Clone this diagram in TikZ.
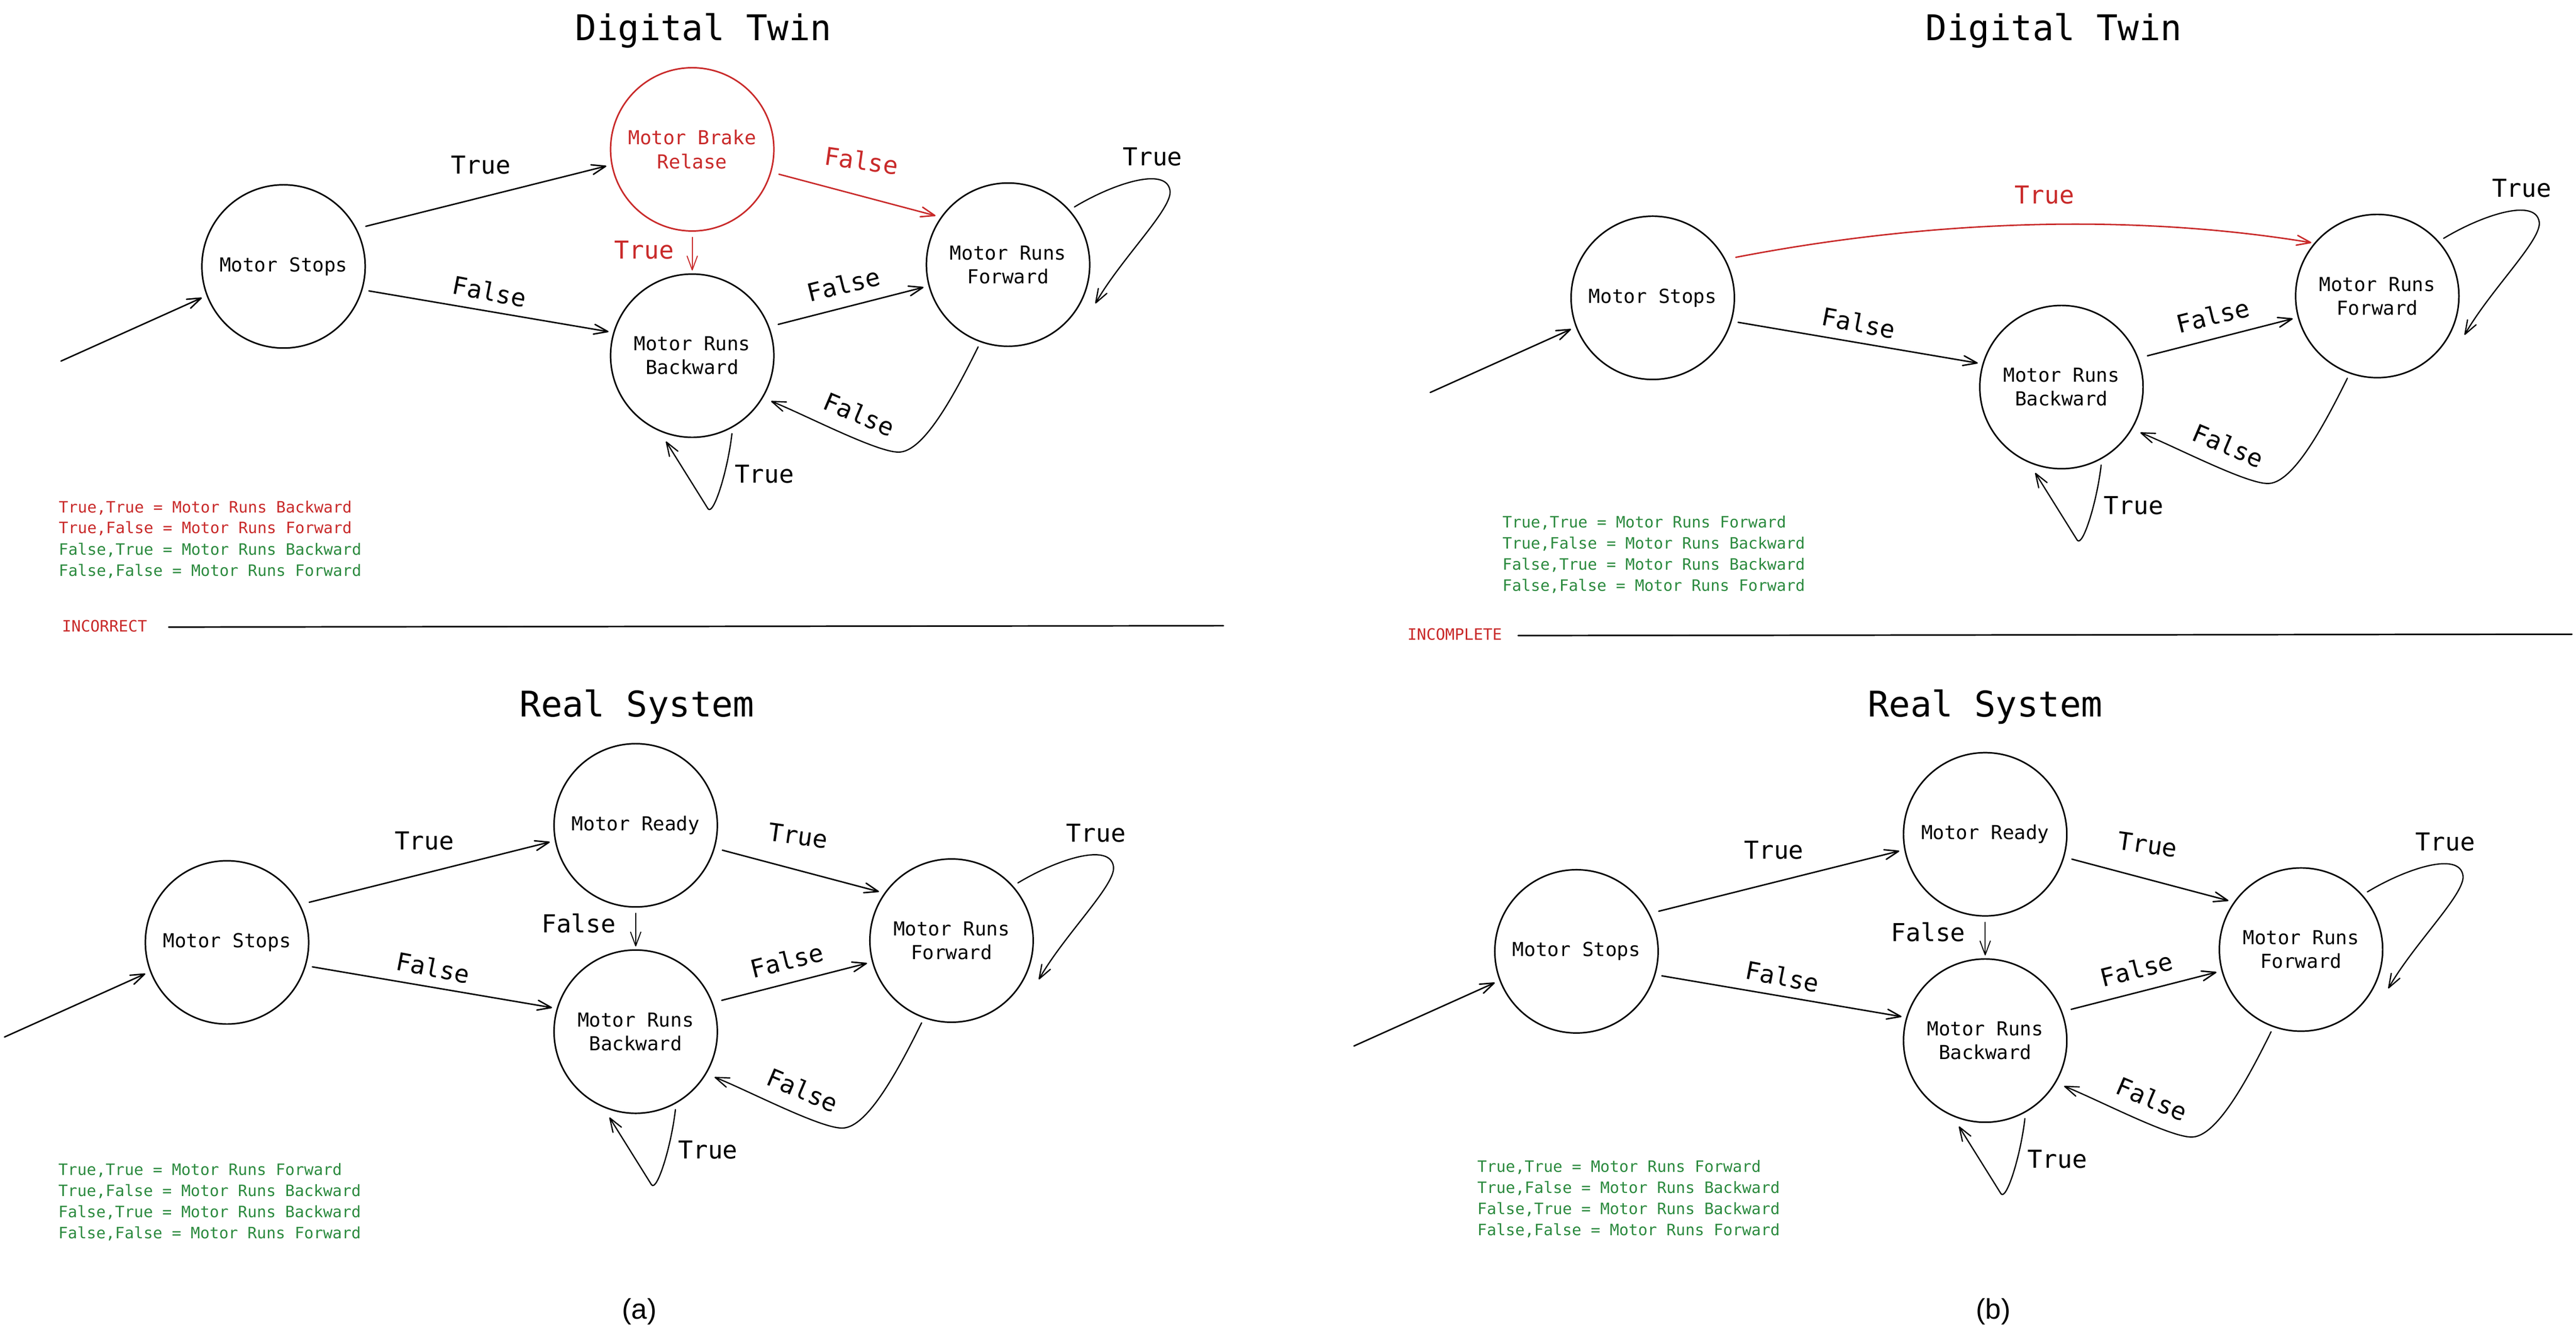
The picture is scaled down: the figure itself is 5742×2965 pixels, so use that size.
\documentclass[tikz,border=0pt]{standalone}
\usepackage{fontspec}
\setmainfont{Liberation Sans}
\setmonofont{DejaVu Sans Mono}
\usetikzlibrary{arrows.meta,calc}
\definecolor{xred}{HTML}{C92A2A}
\definecolor{xgreen}{HTML}{2B8A3E}
\newcommand\stfont{\ttfamily\fontsize{43}{53}\selectfont}
\newcommand\lbfont{\ttfamily\fontsize{55}{66}\selectfont}
\newcommand\ttlfont{\ttfamily\fontsize{79}{95}\selectfont}
\newcommand\lgfont{\ttfamily\fontsize{35}{47}\selectfont}
\newcommand\cpfont{\rmfamily\fontsize{63}{75}\selectfont}
\tikzset{
  state/.style={circle, draw, line width=3.4pt, minimum size=364pt, inner sep=0pt, outer sep=0pt, align=center, font=\stfont},
  conn/.style={line width=3.2pt, line cap=round, line join=round, -{Straight Barb[length=31pt,width=22pt,round]}},
  curv/.style={conn, line width=2.8pt},
  slim/.style={line width=2.2pt, line cap=round, -{Straight Barb[length=31pt,width=23pt,round]}},
  lbl/.style={font=\lbfont, inner sep=0pt},
  ttl/.style={font=\ttlfont, inner sep=0pt, anchor=base},
  lgd/.style={font=\lgfont, inner sep=0pt, anchor=base west},
  sepline/.style={line width=3.4pt, line cap=round},
  captxt/.style={font=\cpfont, inner sep=0pt, anchor=base},
}
% common part of every panel (coordinates of panel (a), top)
\newcommand\basediagram{%
  \node[state] (s) at (632,594) {Motor Stops};
  \node[state] (k) at (1543,793) {Motor Runs\\Backward};
  \node[state] (f) at (2247,590) {Motor Runs\\Forward};
  \coordinate (e) at (136,805);
  \draw[conn] (e) -- ($(s.center)!195pt!(s.201)$);
  \draw[conn] ($(s.center)!198pt!(s.-16)$) -- ($(k.center)!194pt!(k.164)$);
  \node[lbl, rotate=-11] (l1) at (1091,650) {False};
  \draw[conn] ($(k.center)!204pt!(k.20)$) -- ($(f.center)!195pt!(f.195)$);
  \node[lbl, rotate=14] (l2) at (1880,634) {False};
  \draw[curv] ($(f.center)!196pt!(f.41)$) .. controls (2480,410) and (2600,370) .. (2608,425)
     .. controls (2614,465) and (2500,575) .. ($(f.center)!213pt!(f.-24)$);
  \node[lbl] (l3) at (2569,350) {True};
  \draw[curv] ($(f.center)!195pt!(f.-110)$) .. controls (2114,908) and (2053,1008) .. (2003,1008)
     .. controls (1953,1008) and (1793,924) .. ($(k.center)!203pt!(k.-30)$);
  \node[lbl, rotate=-23] (l4) at (1915,923) {False};
  \draw[curv] ($(k.center)!195pt!(k.-63)$) .. controls (1622,1050) and (1590,1152) .. (1578,1134)
     -- ($(k.center)!200pt!(k.-107)$);
  \node[lbl] (l5) at (1704,1057) {True};
}
\newcommand\readypart{%
  \node[state] (r) at (1543,333) {Motor Ready};
  \draw[conn] ($(s.center)!204pt!(s.26)$) -- ($(r.center)!195pt!(r.191)$);
  \node[lbl] (l6) at (1072,368) {True};
  \draw[conn] ($(r.center)!201pt!(r.-16)$) -- ($(f.center)!195pt!(f.146)$);
  \node[lbl, rotate=-8] (l7) at (1905,356) {True};
  \draw[slim] ($(r.center)!196pt!(r.-90)$) -- ($(k.center)!190pt!(k.90)$);
  \node[lbl] (l8) at (1416,551) {False};
}
\begin{document}
\begin{tikzpicture}[x=1pt,y=-1pt]
\fill[white] (0,0) rectangle (5742,2965);
\useasboundingbox (0,0) rectangle (5742,2965);

% ---------- (a) Digital Twin ----------
\begin{scope}[name prefix=tl-]
  \basediagram
  \node[state, xred] (b) at (1543,333) {Motor Brake\\Relase};
  \draw[conn] ($(s.center)!204pt!(s.26)$) -- ($(b.center)!195pt!(b.191)$);
  \node[lbl] (l6) at (1072,368) {True};
  \draw[conn, xred] ($(b.center)!201pt!(b.-16)$) -- ($(f.center)!195pt!(f.146)$);
  \node[lbl, xred, rotate=-8] (l7) at (1920,358) {False};
  \draw[slim, xred] ($(b.center)!196pt!(b.-90)$) -- ($(k.center)!190pt!(k.90)$);
  \node[lbl, xred] (l8) at (1436,557) {True};
\end{scope}

% ---------- (a) Real System ----------
\begin{scope}[shift={(-126,1507)}, name prefix=bl-]
  \basediagram
  \readypart
\end{scope}

% ---------- (b) Digital Twin ----------
\begin{scope}[shift={(3052,70)}, name prefix=tr-]
  \basediagram
  \draw[conn, xred] ($(s.center)!206pt!(s.26)$) .. controls (1250,420) and (1700,405) .. ($(f.center)!189pt!(f.141)$);
  \node[lbl, xred] (l6) at (1505,364) {True};
\end{scope}

% ---------- (b) Real System ----------
\begin{scope}[shift={(2882,1527)}, name prefix=br-]
  \basediagram
  \readypart
\end{scope}

% titles
\node[ttl] (t1) at (1568,90) {Digital Twin};
\node[ttl] (t2) at (4578,90) {Digital Twin};
\node[ttl] (t3) at (1420,1598) {Real System};
\node[ttl] (t4) at (4425,1598) {Real System};

% legends
\node[lgd, xred]   (g1) at (131,1143) {True,True = Motor Runs Backward};
\node[lgd, xred]   (g2) at (131,1189) {True,False = Motor Runs Forward};
\node[lgd, xgreen] (g3) at (131,1237) {False,True = Motor Runs Backward};
\node[lgd, xgreen] (g4) at (131,1284) {False,False = Motor Runs Forward};

\node[lgd, xgreen] (h1) at (3349,1177) {True,True = Motor Runs Forward};
\node[lgd, xgreen] (h2) at (3349,1224) {True,False = Motor Runs Backward};
\node[lgd, xgreen] (h3) at (3349,1271) {False,True = Motor Runs Backward};
\node[lgd, xgreen] (h4) at (3349,1318) {False,False = Motor Runs Forward};

\node[lgd, xgreen] (i1) at (130,2620) {True,True = Motor Runs Forward};
\node[lgd, xgreen] (i2) at (130,2667) {True,False = Motor Runs Backward};
\node[lgd, xgreen] (i3) at (130,2714) {False,True = Motor Runs Backward};
\node[lgd, xgreen] (i4) at (130,2761) {False,False = Motor Runs Forward};

\node[lgd, xgreen] (j1) at (3293,2613) {True,True = Motor Runs Forward};
\node[lgd, xgreen] (j2) at (3293,2660) {True,False = Motor Runs Backward};
\node[lgd, xgreen] (j3) at (3293,2707) {False,True = Motor Runs Backward};
\node[lgd, xgreen] (j4) at (3293,2754) {False,False = Motor Runs Forward};

% separators
\node[lgd, xred] (inc) at (138,1408) {INCORRECT};
\draw[sepline] (376,1398) -- (2727,1395);
\node[lgd, xred] (incp) at (3137,1427) {INCOMPLETE};
\draw[sepline] (3384,1417) -- (5733,1414);

% captions
\node[captxt] (ca) at (1425,2941) {(a)};
\node[captxt] (cb) at (4443,2941) {(b)};
\end{tikzpicture}
\end{document}
